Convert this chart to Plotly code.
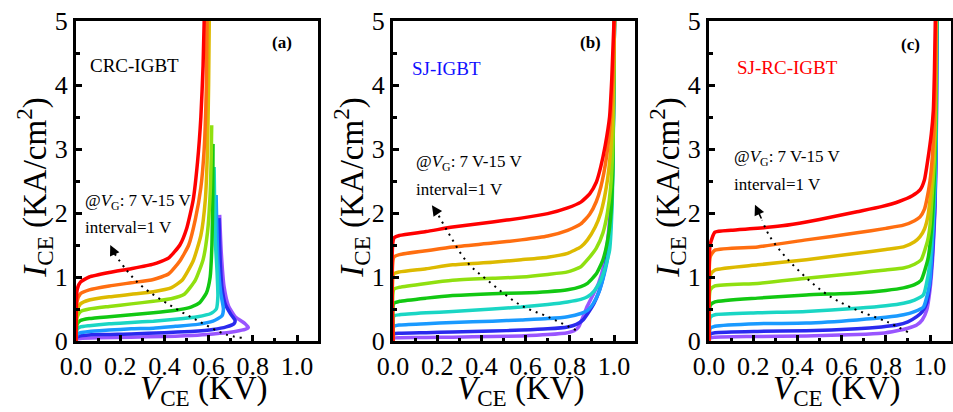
import plotly.graph_objects as go

FONT = "Liberation Serif"

VG = [7, 8, 9, 10, 11, 12, 13, 14, 15]
COLORS = ["#9955FF", "#2A2AEE", "#1A9AFF", "#1AD6C4", "#12C812",
          "#90E010", "#DDBA00", "#FF6E10", "#FF0000"]

X_TICKS = [0.0, 0.2, 0.4, 0.6, 0.8, 1.0]
X_TICK_TEXT = ["0.0", "0.2", "0.4", "0.6", "0.8", "1.0"]
Y_TICKS = [0, 1, 2, 3, 4, 5]

# ---- panel (a) CRC-IGBT : V_CE (kV) / I_CE (kA/cm2), VG = 7 ... 15 V
A_X = [
    [0, 0.005, 0.02, 0.1, 0.25, 0.4, 0.55, 0.65, 0.72, 0.765, 0.78, 0.765, 0.72, 0.69, 0.67, 0.657, 0.65],
    [0, 0.005, 0.02, 0.1, 0.25, 0.4, 0.52, 0.62, 0.68, 0.715, 0.72, 0.7, 0.675, 0.66, 0.652, 0.647],
    [0, 0.005, 0.02, 0.06, 0.15, 0.25, 0.35, 0.45, 0.55, 0.62, 0.66, 0.667, 0.655, 0.643, 0.637, 0.634],
    [0, 0.005, 0.02, 0.06, 0.15, 0.25, 0.35, 0.45, 0.55, 0.61, 0.635, 0.642, 0.638, 0.63, 0.627, 0.625],
    [0, 0.005, 0.02, 0.06, 0.15, 0.25, 0.35, 0.45, 0.52, 0.56, 0.59, 0.607, 0.615, 0.619, 0.62],
    [0, 0.005, 0.02, 0.06, 0.15, 0.25, 0.35, 0.43, 0.49, 0.54, 0.575, 0.595, 0.607, 0.612, 0.614],
    [0, 0.005, 0.02, 0.06, 0.15, 0.25, 0.35, 0.43, 0.48, 0.53, 0.565, 0.585, 0.595, 0.6, 0.603],
    [0, 0.005, 0.02, 0.06, 0.15, 0.25, 0.35, 0.42, 0.47, 0.51, 0.54, 0.565, 0.58, 0.59, 0.593],
    [0, 0.005, 0.02, 0.06, 0.15, 0.25, 0.35, 0.42, 0.47, 0.50, 0.53, 0.55, 0.565, 0.575, 0.58],
]
A_Y = [
    [0, 0.03, 0.04, 0.05, 0.06, 0.07, 0.09, 0.12, 0.15, 0.18, 0.21, 0.27, 0.38, 0.55, 0.85, 1.4, 1.97],
    [0, 0.06, 0.08, 0.1, 0.11, 0.13, 0.15, 0.18, 0.22, 0.27, 0.32, 0.42, 0.58, 0.85, 1.3, 1.92],
    [0, 0.1, 0.13, 0.15, 0.17, 0.19, 0.2, 0.23, 0.26, 0.31, 0.39, 0.5, 0.75, 1.2, 1.8, 2.28],
    [0, 0.18, 0.22, 0.24, 0.27, 0.29, 0.31, 0.34, 0.38, 0.43, 0.5, 0.7, 1.1, 1.6, 2.2, 2.72],
    [0, 0.26, 0.32, 0.35, 0.38, 0.41, 0.44, 0.48, 0.53, 0.6, 0.75, 1.0, 1.5, 2.3, 3.08],
    [0, 0.37, 0.46, 0.5, 0.54, 0.58, 0.62, 0.66, 0.73, 0.95, 1.27, 1.7, 2.3, 2.9, 3.37],
    [0, 0.47, 0.58, 0.64, 0.69, 0.73, 0.77, 0.83, 0.95, 1.25, 1.65, 2.2, 3.0, 4.0, 5.0],
    [0, 0.62, 0.74, 0.8, 0.86, 0.91, 0.96, 1.05, 1.25, 1.5, 1.9, 2.4, 3.0, 4.0, 5.0],
    [0, 0.8, 0.92, 1.0, 1.07, 1.13, 1.2, 1.3, 1.5, 1.75, 2.2, 2.8, 3.5, 4.3, 5.0],
]

# ---- panel (b) SJ-IGBT
B_X = [
    [0, 0.004, 0.03, 0.15, 0.27, 0.45, 0.58, 0.7, 0.79, 0.82, 0.84, 0.86, 0.88, 0.905, 0.93, 0.955, 0.975, 0.99, 0.997, 1.002],
    [0, 0.004, 0.03, 0.15, 0.27, 0.45, 0.58, 0.7, 0.79, 0.83, 0.86, 0.885, 0.91, 0.935, 0.955, 0.975, 0.99, 0.997, 1.002],
    [0, 0.004, 0.03, 0.15, 0.27, 0.45, 0.58, 0.7, 0.79, 0.85, 0.88, 0.905, 0.93, 0.95, 0.97, 0.985, 0.995, 1.002],
    [0, 0.004, 0.03, 0.15, 0.27, 0.45, 0.58, 0.7, 0.79, 0.85, 0.88, 0.91, 0.94, 0.96, 0.98, 0.992, 1.002],
    [0, 0.004, 0.03, 0.15, 0.27, 0.45, 0.58, 0.7, 0.79, 0.85, 0.88, 0.92, 0.95, 0.97, 0.985, 0.995, 1.002],
    [0, 0.004, 0.03, 0.15, 0.27, 0.45, 0.58, 0.7, 0.79, 0.85, 0.88, 0.92, 0.95, 0.97, 0.985, 0.995, 1.002],
    [0, 0.004, 0.03, 0.15, 0.27, 0.45, 0.58, 0.7, 0.79, 0.85, 0.88, 0.915, 0.94, 0.965, 0.985, 0.996, 1.002],
    [0, 0.004, 0.03, 0.15, 0.27, 0.45, 0.58, 0.7, 0.79, 0.85, 0.89, 0.92, 0.94, 0.965, 0.985, 0.996, 1.002],
    [0, 0.004, 0.03, 0.15, 0.27, 0.45, 0.58, 0.7, 0.79, 0.85, 0.89, 0.92, 0.94, 0.96, 0.98, 0.99, 1.0],
]
B_Y = [
    [0, 0.045, 0.05, 0.055, 0.06, 0.07, 0.08, 0.1, 0.13, 0.16, 0.22, 0.38, 0.55, 0.72, 0.9, 1.2, 1.7, 2.5, 3.5, 5.0],
    [0, 0.11, 0.12, 0.13, 0.14, 0.155, 0.17, 0.19, 0.22, 0.26, 0.33, 0.45, 0.59, 0.8, 1.06, 1.5, 2.3, 3.4, 5.0],
    [0, 0.23, 0.25, 0.27, 0.29, 0.31, 0.33, 0.35, 0.38, 0.43, 0.48, 0.58, 0.75, 0.97, 1.27, 1.8, 2.8, 5.0],
    [0, 0.39, 0.41, 0.44, 0.46, 0.5, 0.53, 0.57, 0.61, 0.65, 0.69, 0.78, 0.95, 1.15, 1.42, 2.2, 5.0],
    [0, 0.59, 0.62, 0.67, 0.71, 0.74, 0.75, 0.77, 0.8, 0.85, 0.9, 1.05, 1.27, 1.55, 1.94, 2.7, 5.0],
    [0, 0.81, 0.84, 0.9, 0.95, 0.98, 1.0, 1.04, 1.08, 1.16, 1.27, 1.45, 1.69, 2.0, 2.41, 3.1, 5.0],
    [0, 1.05, 1.08, 1.13, 1.19, 1.23, 1.27, 1.31, 1.37, 1.47, 1.58, 1.78, 2.0, 2.4, 2.98, 3.8, 5.0],
    [0, 1.31, 1.35, 1.41, 1.47, 1.53, 1.58, 1.64, 1.73, 1.83, 1.98, 2.18, 2.4, 2.85, 3.5, 4.2, 5.0],
    [0, 1.61, 1.65, 1.71, 1.78, 1.86, 1.92, 1.99, 2.08, 2.17, 2.3, 2.48, 2.72, 3.05, 3.5, 4.1, 5.0],
]

# ---- panel (c) SJ-RC-IGBT
C_X = [
    [0, 0.006, 0.027, 0.2, 0.44, 0.67, 0.78, 0.85, 0.9, 0.94, 0.965, 0.985, 1.0, 1.012, 1.022, 1.028, 1.032],
    [0, 0.006, 0.027, 0.22, 0.44, 0.67, 0.78, 0.85, 0.9, 0.94, 0.965, 0.985, 1.0, 1.012, 1.022, 1.028, 1.032],
    [0, 0.006, 0.027, 0.22, 0.44, 0.67, 0.8, 0.88, 0.93, 0.97, 0.99, 1.0, 1.012, 1.022, 1.028, 1.031],
    [0, 0.006, 0.027, 0.22, 0.44, 0.67, 0.8, 0.88, 0.93, 0.97, 0.99, 1.0, 1.012, 1.022, 1.027, 1.031],
    [0, 0.006, 0.027, 0.22, 0.44, 0.67, 0.8, 0.88, 0.93, 0.96, 0.99, 1.0, 1.012, 1.02, 1.026, 1.03],
    [0, 0.006, 0.027, 0.22, 0.44, 0.67, 0.8, 0.88, 0.93, 0.96, 0.99, 1.0, 1.01, 1.019, 1.025, 1.029],
    [0, 0.006, 0.027, 0.22, 0.44, 0.67, 0.8, 0.88, 0.93, 0.955, 0.975, 0.99, 1.0, 1.01, 1.018, 1.024, 1.028],
    [0, 0.006, 0.027, 0.22, 0.44, 0.67, 0.8, 0.88, 0.93, 0.955, 0.975, 0.985, 1.0, 1.01, 1.018, 1.023, 1.027],
    [0, 0.005, 0.027, 0.1, 0.22, 0.33, 0.44, 0.56, 0.67, 0.78, 0.86, 0.92, 0.955, 0.975, 0.99, 1.006, 1.015, 1.02, 1.024],
]
C_Y = [
    [0, 0.05, 0.06, 0.07, 0.08, 0.1, 0.12, 0.16, 0.2, 0.25, 0.33, 0.48, 0.8, 1.3, 2.0, 3.0, 5.0],
    [0, 0.11, 0.13, 0.15, 0.16, 0.19, 0.22, 0.25, 0.3, 0.38, 0.46, 0.59, 0.9, 1.4, 2.1, 3.1, 5.0],
    [0, 0.2, 0.23, 0.27, 0.28, 0.33, 0.37, 0.41, 0.46, 0.53, 0.75, 0.95, 1.6, 2.3, 3.2, 5.0],
    [0, 0.37, 0.41, 0.44, 0.46, 0.51, 0.55, 0.59, 0.64, 0.72, 1.0, 1.25, 1.8, 2.5, 3.3, 5.0],
    [0, 0.56, 0.61, 0.67, 0.72, 0.75, 0.79, 0.83, 0.88, 0.95, 1.27, 1.5, 2.0, 2.6, 3.4, 5.0],
    [0, 0.8, 0.86, 0.9, 0.98, 1.06, 1.11, 1.14, 1.2, 1.27, 1.58, 1.8, 2.3, 2.8, 3.5, 5.0],
    [0, 1.03, 1.11, 1.19, 1.27, 1.37, 1.43, 1.47, 1.55, 1.63, 1.75, 1.94, 2.2, 2.6, 3.0, 3.6, 5.0],
    [0, 1.32, 1.42, 1.47, 1.58, 1.69, 1.76, 1.81, 1.88, 1.94, 2.06, 2.2, 2.5, 2.85, 3.3, 3.9, 5.0],
    [0, 1.5, 1.7, 1.73, 1.76, 1.8, 1.86, 1.94, 2.02, 2.1, 2.18, 2.27, 2.36, 2.52, 2.83, 3.24, 3.6, 4.2, 5.0],
]

# dotted "increasing VG" arrows (path points, then arrow head tip)
ARROW_A_X = [0.75, 0.68, 0.56, 0.425, 0.30, 0.23, 0.17]
ARROW_A_Y = [0.05, 0.1, 0.3, 0.56, 0.85, 1.1, 1.39]
ARROW_B_X = [0.827, 0.7, 0.577, 0.427, 0.336, 0.244, 0.2]
ARROW_B_Y = [0.17, 0.38, 0.56, 0.95, 1.23, 1.73, 2.0]
ARROW_C_X = [0.90, 0.805, 0.638, 0.516, 0.366, 0.276, 0.24]
ARROW_C_Y = [0.14, 0.30, 0.53, 0.77, 1.24, 1.63, 1.89]
HEAD_A = (0.155, 1.5)
HEAD_B = (0.176, 2.12)
HEAD_C = (0.208, 2.13)

PANEL_LABELS = ["(a)", "(b)", "(c)"]
DEVICE_NAMES = ["CRC-IGBT", "SJ-IGBT", "SJ-RC-IGBT"]
DEVICE_COLORS = ["black", "#1010FF", "#FF0000"]
DEVICE_POS = [(0.054, 4.31), (0.077, 4.25), (0.118, 4.28)]
LABEL_POS = [(0.93, 4.66), (0.895, 4.66), (0.913, 4.63)]
NOTE_POS = [(0.03, 2.17, 1.78), (0.095, 2.78, 2.375), (0.104, 2.86, 2.45)]

W, H = 953, 412
X_DOMAINS = [(76, 318), (393, 635), (709, 951)]
Y_DOMAIN = (21, 341)

fig = go.Figure()

panels = [
    (A_X, A_Y, ARROW_A_X, ARROW_A_Y, HEAD_A),
    (B_X, B_Y, ARROW_B_X, ARROW_B_Y, HEAD_B),
    (C_X, C_Y, ARROW_C_X, ARROW_C_Y, HEAD_C),
]

annotations = []
for p, (PX, PY, AX, AY, HEAD) in enumerate(panels):
    xa = "x" if p == 0 else f"x{p+1}"
    ya = "y" if p == 0 else f"y{p+1}"
    for i in range(len(VG)):
        fig.add_trace(go.Scatter(
            x=PX[i], y=PY[i], mode="lines", name=f"VG={VG[i]} V",
            line=dict(color=COLORS[i], width=3.5, shape="spline", smoothing=0.5),
            xaxis=xa, yaxis=ya, showlegend=False, hoverinfo="skip"))
    fig.add_trace(go.Scatter(
        x=AX, y=AY, mode="lines",
        line=dict(color="black", width=2, dash="2px,5px", shape="spline"),
        xaxis=xa, yaxis=ya, showlegend=False, hoverinfo="skip"))
    annotations.append(dict(
        x=HEAD[0], y=HEAD[1], ax=AX[-1], ay=AY[-1], xref=xa, yref=ya,
        axref=xa, ayref=ya, showarrow=True, arrowhead=2, arrowsize=1.3,
        arrowwidth=1.6, arrowcolor="black", text="", standoff=0))

    dom = xa + " domain"
    ydom = ya + " domain"
    annotations.append(dict(
        x=-0.172, y=0.48, xref=dom, yref=ydom, xanchor="center", yanchor="middle",
        textangle=-90, showarrow=False,
        text="<i>I</i><sub>CE</sub> (KA/cm<sup>2</sup>)",
        font=dict(family=FONT, size=33, color="black")))
    annotations.append(dict(
        x=0.527, y=-0.155, xref=dom, yref=ydom, xanchor="center", yanchor="middle",
        showarrow=False, text="<i>V</i><sub>CE</sub> (KV)",
        font=dict(family=FONT, size=33, color="black")))
    annotations.append(dict(
        x=DEVICE_POS[p][0], y=DEVICE_POS[p][1], xref=xa, yref=ya,
        xanchor="left", yanchor="middle", showarrow=False, text=DEVICE_NAMES[p],
        font=dict(family=FONT, size=19, color=DEVICE_COLORS[p])))
    annotations.append(dict(
        x=LABEL_POS[p][0], y=LABEL_POS[p][1], xref=xa, yref=ya,
        xanchor="center", yanchor="middle", showarrow=False,
        text=f"<b>{PANEL_LABELS[p]}</b>",
        font=dict(family=FONT, size=17, color="black")))
    annotations.append(dict(
        x=NOTE_POS[p][0], y=NOTE_POS[p][1], xref=xa, yref=ya,
        xanchor="left", yanchor="middle", showarrow=False,
        text="@<i>V</i><sub>G</sub>: 7 V-15 V",
        font=dict(family=FONT, size=17, color="black")))
    annotations.append(dict(
        x=NOTE_POS[p][0], y=NOTE_POS[p][2], xref=xa, yref=ya,
        xanchor="left", yanchor="middle", showarrow=False,
        text="interval=1 V",
        font=dict(family=FONT, size=17, color="black")))

axis_common = dict(
    showline=True, linecolor="black", linewidth=3, mirror=True,
    ticks="inside", ticklen=6, tickwidth=3, tickcolor="black",
    showgrid=False, zeroline=False, automargin=False,
    tickfont=dict(family=FONT, size=26, color="black"))

layout = dict(
    width=W, height=H, margin=dict(l=0, r=0, t=0, b=0),
    paper_bgcolor="white", plot_bgcolor="white",
    annotations=annotations, showlegend=False)

for p in range(3):
    xk = "xaxis" if p == 0 else f"xaxis{p+1}"
    yk = "yaxis" if p == 0 else f"yaxis{p+1}"
    xa = "x" if p == 0 else f"x{p+1}"
    ya = "y" if p == 0 else f"y{p+1}"
    layout[xk] = dict(
        axis_common, anchor=ya,
        domain=[X_DOMAINS[p][0] / W, X_DOMAINS[p][1] / W],
        range=[0, 1.095], tickvals=X_TICKS, ticktext=X_TICK_TEXT,
        minor=dict(ticks="inside", ticklen=3.5, tickwidth=2.5, tickcolor="black",
                   tickvals=[0.1, 0.3, 0.5, 0.7, 0.9]))
    layout[yk] = dict(
        axis_common, anchor=xa,
        domain=[(H - Y_DOMAIN[1]) / H, (H - Y_DOMAIN[0]) / H],
        range=[0, 5], tickvals=Y_TICKS,
        minor=dict(ticks="inside", ticklen=3.5, tickwidth=2.5, tickcolor="black",
                   tickvals=[0.5, 1.5, 2.5, 3.5, 4.5]))

fig.update_layout(**layout)
fig.write_html("out.html",
               config={"displayModeBar": False},
               post_script="document.body.style.margin='0';document.body.style.overflow='hidden';")
